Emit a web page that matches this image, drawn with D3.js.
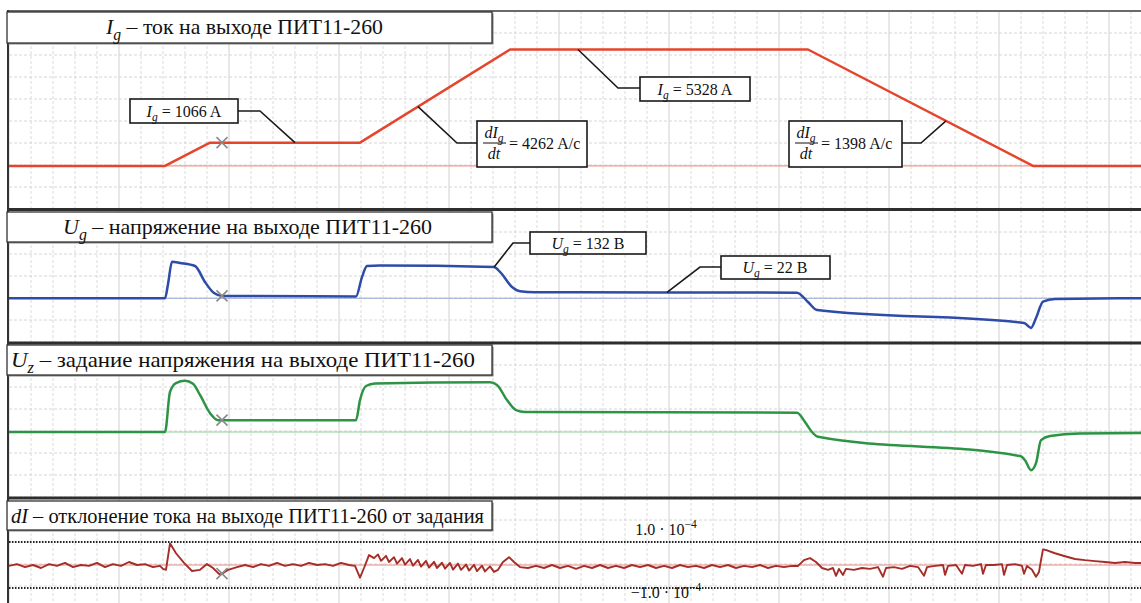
<!DOCTYPE html>
<html><head><meta charset="utf-8">
<script src="https://cdn.jsdelivr.net/npm/d3@7"></script>
<style>
body{margin:0;background:#fff}
svg{display:block}
text{font-family:"Liberation Serif","Times New Roman",serif}
</style>
</head><body>
<svg id="chart" width="1141" height="603"></svg>
<script>
// ---------------- DATA (time in ms) ----------------
const igTime  = [0, 156, 201, 351, 501, 799, 1024, 1132];
const igValue = [0, 0, 1066, 1066, 5328, 5328, 0, 0];           // A

const ugTime  = [0,156,159,163,171,186,196,205,213,347,353,358,371,485,491,503,511,526,788,799,808,1015,1022,1027,1034,1046,1132];
const ugValue = [0,0,60,155,150,137,69,22,10,8,90,137,139,133,112,48,30,26,24,-16,-50,-105,-126,-84,-14,-3,0]; // V

const uzTime  = [0,156,161,167,176,184,191,201,209,347,351,357,366,481,488,498,507,516,788,796,803,809,1011,1016,1022,1027,1032,1041,1071,1132];
const uzValue = [0,0,108,132,138,130,100,51,32,32,86,124,131,134,127,86,59,54,52,27,0,-13,-65,-76,-103,-84,-22,-11,-4,-3]; // V

const diTime = [0,8,16,24,32,40,48,56,64,72,80,88,96,104,112,120,128,136,144,151,
  154,157,161,167,175,183,191,198,204,211,219,228,
  236,244,252,260,268,276,284,292,300,308,316,324,332,340,346,
  351,355,360,365,
  369,372,377,380,385,388,393,396,401,404,409,412,417,420,425,428,433,436,441,444,449,452,457,460,465,468,473,476,481,485,489,
  494,500,505,511,
  519,527,535,543,551,559,567,575,583,591,599,607,615,623,631,639,647,655,663,671,679,687,695,703,711,719,727,735,743,751,759,767,775,783,
  789,795,801,807,813,819,824,827,830,834,837,845,853,861,869,874,877,885,893,901,909,915,918,926,934,936,939,947,953,956,964,972,974,977,985,993,995,998,1006,1013,1015,1018,1023,1027,1030,1032,1034,1038,1046,1056,1066,1076,1086,1096,1106,1116,1126,1132];
const diValue = [-0.4,0.4,-0.9,0,-1.3,0.4,-0.4,0.9,-0.9,0,-0.4,0.9,-0.9,0.4,-0.4,1.3,0,0.4,-0.9,-0.4,
  -1.7,-2.1,9.4,5.1,0.9,-2.6,-2.1,0.4,-1.3,-4.3,-2.1,-0.9,
  0,-0.9,0.4,-0.4,0.9,-0.4,0.4,-0.4,0.9,0,0.4,-0.4,0.9,0,-0.4,
  -5.5,-1.3,4.3,3.0,
  4.6,1.8,4.0,1.3,3.4,0.6,3.0,0.2,2.6,-0.3,2.2,-0.7,1.8,-1.1,1.4,-1.3,1.0,-1.6,0.9,-2.0,0.6,-2.1,0.2,-2.4,0.1,-2.7,-0.3,-2.8,-0.6,-3.0,-2.1,
  1.3,3.4,1.3,-0.9,
  -1.3,-0.4,-1.3,0,-1.3,-0.4,-1.7,-0.4,-1.3,0,-1.3,-0.4,-1.3,0,-0.9,0,-1.3,-0.4,-1.3,0,-0.9,-0.4,-1.3,0,-0.9,0,-1.3,-0.4,-0.9,0,-1.3,-0.4,-0.9,-0.4,
  -0.4,2.1,3.0,1.3,-1.3,-2.1,-1.3,-4.7,-1.7,-4.3,-1.7,-2.1,-1.3,-1.7,-0.9,-5.1,-1.3,-0.9,-1.7,-0.4,-0.9,-4.7,-0.9,-0.4,0,-4.3,-0.4,0,-3.8,0,-0.4,0.4,-3.8,0,0,0.4,-4.3,0,0.4,-0.4,-3.8,-0.4,-2.1,-5.1,-3.0,2.1,6.8,6.4,5.1,3.8,2.6,2.1,1.7,1.3,0.9,1.3,0.9,0.9]; // x 1e-5

const diLimit = 10;                 // ±1.0·10^-4 in units of 1e-5
const crossTime = 213;              // cursor marker
const igLabels = [1066, 5328];      // A
const rateLabels = [4262, 1398];    // A/c
const ugLabels = [132, 22];         // B
const titles = [
  {sym:"I", sub:"g", rest:" – ток на выходе ПИТ11-260"},
  {sym:"U", sub:"g", rest:" – напряжение на выходе ПИТ11-260"},
  {sym:"U", sub:"z", rest:" – задание напряжения на выходе ПИТ11-260"},
  {sym:"dI", sub:"", rest:" – отклонение тока на выходе ПИТ11-260 от задания"}
];

// ---------------- LAYOUT ----------------
const W = 1141, H = 603, L = 9;
const svg = d3.select("#chart");
const x = d3.scaleLinear().domain([0, 1132]).range([L, W]);

const panels = [
  {top:11,  bottom:209, domain:[-1970, 7090], t:igTime, v:igValue, color:"#e5452c", zero:"#f29a8a", sw:2.5, curve:d3.curveLinear},
  {top:210, bottom:343, domain:[-190, 375],   t:ugTime, v:ugValue, color:"#2e4ba8", zero:"#98a6d6", sw:2.5, curve:d3.curveMonotoneX},
  {top:343, bottom:498, domain:[-178, 240],   t:uzTime, v:uzValue, color:"#2d9446", zero:"#8fcf9c", sw:2.5, curve:d3.curveMonotoneX},
  {top:498, bottom:603, domain:[-16.5, 29.1], t:diTime, v:diValue, color:"#a52d28", zero:"#e58a84", sw:1.9, curve:d3.curveLinear}
];
panels.forEach(p => { p.y = d3.scaleLinear().domain(p.domain).range([p.bottom, p.top]); });

function interp(ts, vs, t){
  for (let i=1;i<ts.length;i++){ if (t<=ts[i]){ const f=(t-ts[i-1])/(ts[i]-ts[i-1]); return vs[i-1]+f*(vs[i]-vs[i-1]); } }
  return vs[vs.length-1];
}

const defs = svg.append("defs");
panels.forEach((p,i)=>{
  defs.append("clipPath").attr("id","clip"+i).append("rect")
    .attr("x",L).attr("y",p.top).attr("width",W-L).attr("height",p.bottom-p.top);
});

// grid
const grid = svg.append("g");
const vTicks = d3.range(0, 1133, 22);
panels.forEach(p=>{
  vTicks.forEach((t,i)=>{
    grid.append("line").attr("x1",x(t)).attr("x2",x(t)).attr("y1",p.top).attr("y2",p.bottom)
      .attr("stroke", i%5===0 ? "#d0d0d0" : "#dadada")
      .attr("stroke-width",1)
      .attr("stroke-dasharray", i%5===0 ? null : "3,2");
  });
  d3.range(p.top+22, p.bottom, 22).forEach(yy=>{
    grid.append("line").attr("x1",L).attr("x2",W).attr("y1",yy).attr("y2",yy)
      .attr("stroke","#d6d6d6").attr("stroke-width",1).attr("stroke-dasharray","3,2");
  });
});

// zero lines
panels.forEach(p=>{
  svg.append("line").attr("x1",L).attr("x2",W).attr("y1",p.y(0)).attr("y2",p.y(0))
    .attr("stroke",p.zero).attr("stroke-width",1.2);
});

// dI limits (dotted)
const pd = panels[3];
[diLimit, -diLimit].forEach(v=>{
  svg.append("line").attr("x1",L).attr("x2",W).attr("y1",pd.y(v)).attr("y2",pd.y(v))
    .attr("stroke","#222").attr("stroke-width",2).attr("stroke-dasharray","1.5,1.5");
});

// traces
panels.forEach((p,i)=>{
  const line = d3.line().x(d=>x(d[0])).y(d=>p.y(d[1])).curve(p.curve);
  svg.append("path").datum(d3.zip(p.t,p.v)).attr("clip-path","url(#clip"+i+")")
    .attr("d",line).attr("fill","none").attr("stroke",p.color)
    .attr("stroke-width",p.sw).attr("stroke-linejoin","round");
});

// crosses
panels.forEach(p=>{
  const cx = x(crossTime), cy = p.y(interp(p.t,p.v,crossTime)), s=5.5;
  svg.append("path").attr("d",`M${cx-s},${cy-s}L${cx+s},${cy+s}M${cx-s},${cy+s}L${cx+s},${cy-s}`)
    .attr("stroke","#8a8a8a").attr("stroke-width",1.6);
});

// borders
svg.append("line").attr("x1",L-1).attr("x2",W).attr("y1",11).attr("y2",11).attr("stroke","#6a6a6a").attr("stroke-width",2);
[209.5, 343, 498].forEach(yy=>{
  svg.append("line").attr("x1",L-1).attr("x2",W).attr("y1",yy).attr("y2",yy).attr("stroke","#2e2e2e").attr("stroke-width",3);
});
svg.append("line").attr("x1",L-1).attr("x2",L-1).attr("y1",10).attr("y2",H).attr("stroke","#333").attr("stroke-width",2);

// rich text helper
function rich(g, tx, ty, parts, size, anchor, len){
  const t = g.append("text").attr("x",tx).attr("y",ty).attr("font-size",size)
    .attr("text-anchor",anchor||"middle").attr("fill","#111");
  if (len) t.attr("textLength",len).attr("lengthAdjust","spacingAndGlyphs");
  let shift = 0;
  parts.forEach(pp=>{
    if (pp.t==="") return;
    const s = t.append("tspan").text(pp.t);
    const target = pp.sub ? size*0.25 : pp.sup ? -size*0.42 : 0;
    if (target!==shift){ s.attr("dy", target-shift); shift=target; }
    if (pp.it) s.attr("font-style","italic");
    if (pp.sub||pp.sup) s.attr("font-size", size*0.72);
  });
  return t;
}

// title boxes
const titleTops = [12, 212, 345, 501];
const titleH = [31, 30, 30, 29];
const titleX = [[106,383],[63,432],[11,475],[11,484]];
titles.forEach((tt,i)=>{
  const g = svg.append("g");
  g.append("rect").attr("x",8.5).attr("y",titleTops[i]+1.5).attr("width",485).attr("height",titleH[i]).attr("fill","#888");
  g.append("rect").attr("x",7).attr("y",titleTops[i]).attr("width",485).attr("height",titleH[i])
    .attr("fill","#fff").attr("stroke","#333").attr("stroke-width",1.3);
  rich(g, titleX[i][0], titleTops[i]+22, [{t:tt.sym,it:true},{t:tt.sub,it:true,sub:true},{t:tt.rest}], 22, "start", titleX[i][1]-titleX[i][0]);
});

// annotation boxes
const ann = svg.append("g");
function box(x0,y0,w,h){
  ann.append("rect").attr("x",x0).attr("y",y0).attr("width",w).attr("height",h)
    .attr("fill","#fff").attr("stroke","#1a1a1a").attr("stroke-width",1.6);
}
function leader(pts){
  ann.append("path").attr("d","M"+pts.map(p=>p.join(",")).join("L"))
    .attr("fill","none").attr("stroke","#1a1a1a").attr("stroke-width",1.6);
}
const p1 = panels[0], p2 = panels[1];

// Ig = 1066 A
leader([[x(286),p1.y(igLabels[0])],[260,111],[238,111]]);
box(130,99,108,24);
rich(ann,184,117,[{t:"I",it:true},{t:"g",it:true,sub:true},{t:" = "+igLabels[0]+" A"}],16);

// Ig = 5328 A
leader([[x(569),p1.y(igLabels[1])],[618,88],[640,88]]);
box(640,77,110,24);
rich(ann,695,95,[{t:"I",it:true},{t:"g",it:true,sub:true},{t:" = "+igLabels[1]+" A"}],16);

// dIg/dt fractions
function fracLabel(x0, y0, w, h, value){
  box(x0,y0,w,h);
  const fx = x0+17, my = y0+h/2;
  rich(ann,fx,my-6,[{t:"dI",it:true},{t:"g",it:true,sub:true}],16);
  ann.append("line").attr("x1",fx-11).attr("x2",fx+12).attr("y1",my-1).attr("y2",my-1).attr("stroke","#111").attr("stroke-width",1);
  rich(ann,fx,my+15,[{t:"dt",it:true}],16);
  rich(ann,fx+15,my+5,[{t:"= "+value+" A/c"}],16,"start");
}
leader([[x(409),p1.y(interp(igTime,igValue,409))],[457,143],[477,143]]);
fracLabel(477,121,110,46,rateLabels[0]);
leader([[x(937),p1.y(interp(igTime,igValue,937))],[921,143],[902,143]]);
fracLabel(789,121,113,46,rateLabels[1]);

// Ug = 132 B
leader([[x(485),p2.y(ugLabels[0])],[513,243],[530,243]]);
box(530,232,116,22);
rich(ann,588,249,[{t:"U",it:true},{t:"g",it:true,sub:true},{t:" = "+ugLabels[0]+" B"}],16);

// Ug = 22 B
leader([[x(658),p2.y(interp(ugTime,ugValue,658))],[700,267],[721,267]]);
box(721,256,109,23);
rich(ann,775,273,[{t:"U",it:true},{t:"g",it:true,sub:true},{t:" = "+ugLabels[1]+" B"}],16);

// dI limit labels
rich(svg,666,pd.y(diLimit)-7,[{t:"1.0 · 10"},{t:"−4",sup:true}],16);
rich(svg,666,598,[{t:"−1.0 · 10"},{t:"−4",sup:true}],16);
</script>
</body></html>
